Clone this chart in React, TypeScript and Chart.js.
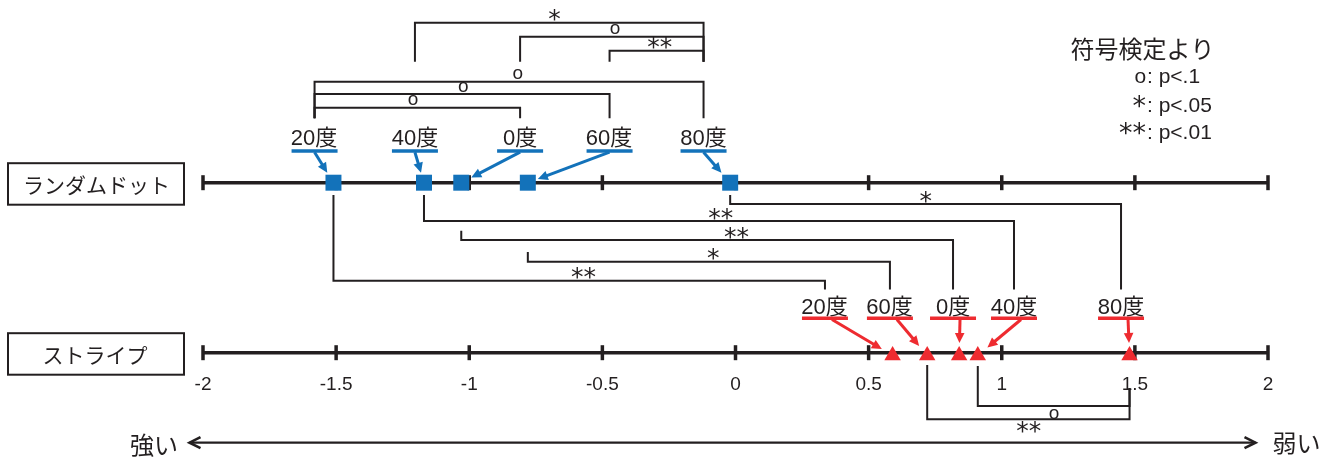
import React, { useEffect, useRef } from 'react';
import { Chart, registerables } from 'chart.js';

Chart.register(...registerables);

// ---------------- data ----------------
const CONDITIONS = ['0度', '20度', '40度', '60度', '80度'];
const RANDOM_DOT = [-1.03, -1.51, -1.17, -0.78, -0.02];
const STRIPE = [0.84, 0.59, 0.91, 0.72, 1.48];
const AXIS_MIN = -2;
const AXIS_MAX = 2;
const TICK_VALUES = [-2, -1.5, -1, -0.5, 0, 0.5, 1, 1.5, 2];
const TICK_LABELS = ['-2', '-1.5', '-1', '-0.5', '0', '0.5', '1', '1.5', '2'];
const ROW_NAMES = ['ランダムドット', 'ストライプ'];
// within random-dot comparisons [left, right, mark]
const RD_PAIRS: [string, string, string][] = [
  ['40度', '80度', '*'],
  ['0度', '80度', 'o'],
  ['60度', '80度', '**'],
  ['20度', '80度', 'o'],
  ['20度', '60度', 'o'],
  ['20度', '0度', 'o'],
];
// random-dot vs stripe, same angle [condition, mark]
const CROSS_PAIRS: [string, string][] = [
  ['80度', '*'],
  ['40度', '**'],
  ['0度', '**'],
  ['60度', '*'],
  ['20度', '**'],
];
// within stripe comparisons
const ST_PAIRS: [string, string, string][] = [
  ['40度', '80度', 'o'],
  ['60度', '80度', '**'],
];
const LEGEND_TITLE = '符号検定より';
const LEGEND_MARKS = ['o', '*', '**'];
const LEGEND_TEXTS = [': p<.1', ': p<.05', ': p<.01'];
const DIRECTION_LABELS = ['強い', '弱い'];

// ---------------- layout / style ----------------
const W = 1330;
const H = 457;
const PLOT_LEFT = 203;
const PLOT_RIGHT = 1268;
const BLUE = '#1372BA';
const RED = '#EE2B30';
const INK = '#231F20';
const LATIN = '"Liberation Sans", Arial, "Noto Sans CJK JP", sans-serif';
const CJK = '"Noto Sans CJK JP", "Noto Sans CJK SC", sans-serif';
const STAR_FONT = '25px "DejaVu Sans", sans-serif';
const LEGEND_STAR_FONT = '27px "DejaVu Sans", sans-serif';
const O_FONT = '19px "Liberation Sans", Arial, sans-serif';
const LEGEND_O_FONT = '21px "Liberation Sans", Arial, sans-serif';

const RD_Y = 182.7;
const ST_Y = 352.7;
const TRI_Y = 355.5;
// label anchors along the axis (axis units)
const RD_LABEL_AT: Record<string, number> = { '20度': -1.581, '40度': -1.204, '0度': -0.809, '60度': -0.473, '80度': -0.12 };
const ST_LABEL_AT: Record<string, number> = { '20度': 0.336, '60度': 0.58, '0度': 0.817, '40度': 1.046, '80度': 1.448 };
const RD_LABEL_Y = 137.4;
const RD_LINE_Y = 151;
const ST_LABEL_Y = 305.9;
const ST_LINE_Y = 318.3;
const RD_TOP_LEVEL = [22.7, 36.7, 50.7, 81.7, 94, 107.7];
const RD_TOP_FOOT = [61.7, 61.7, 61.7, 118.3, 118.3, 118.3];
const RD_TOP_SHIFT = [-5, 3, 3, 8.5, 1, -4.5];
const CROSS_LEVEL = [204, 221, 240, 261.7, 280.7];
const CROSS_TOP = [195, 195, 230.7, 252, 195];
const CROSS_FOOT = 289.5;
const CROSS_SHIFT = [0, 1.5, 29, 4, 4];
const ST_LEVEL = [406, 419.3];
const ST_TOP = [366, 365];
const ST_RIGHT_TOP = 388;
const TICK_LABEL_BASE = 390;
const DIR_Y = 442.7;

const rd = (c: string) => RANDOM_DOT[CONDITIONS.indexOf(c)];
const st = (c: string) => STRIPE[CONDITIONS.indexOf(c)];

type Mark = { text: string; x1: number; x2: number; y: number; shift: number; below: boolean };

function bracket(xa: number, ya: number, xb: number, yb: number, level: number) {
  return [
    { x: xa, y: ya },
    { x: xa, y: level },
    { x: xb, y: level },
    { x: xb, y: yb },
  ];
}

const marks: Mark[] = [];
const bracketSets: any[] = [];
RD_PAIRS.forEach(([a, b, m], i) => {
  const xa = RD_LABEL_AT[a];
  const xb = RD_LABEL_AT[b];
  bracketSets.push(bracket(xa, RD_TOP_FOOT[i], xb, RD_TOP_FOOT[i], RD_TOP_LEVEL[i]));
  marks.push({ text: m, x1: xa, x2: xb, y: RD_TOP_LEVEL[i], shift: RD_TOP_SHIFT[i], below: false });
});
CROSS_PAIRS.forEach(([c, m], i) => {
  const xa = rd(c);
  const xb = ST_LABEL_AT[c];
  bracketSets.push(bracket(xa, CROSS_TOP[i], xb, CROSS_FOOT, CROSS_LEVEL[i]));
  marks.push({ text: m, x1: xa, x2: xb, y: CROSS_LEVEL[i], shift: CROSS_SHIFT[i], below: false });
});
ST_PAIRS.forEach(([a, b, m], i) => {
  const xa = st(a);
  const xb = st(b);
  bracketSets.push(bracket(xa, ST_TOP[i], xb, ST_RIGHT_TOP, ST_LEVEL[i]));
  marks.push({ text: m, x1: xa, x2: xb, y: ST_LEVEL[i], shift: 0, below: true });
});

function drawCentered(ctx: CanvasRenderingContext2D, text: string, cx: number, cy: number, font: string, color: string) {
  ctx.font = font;
  ctx.fillStyle = color;
  ctx.textAlign = 'left';
  ctx.textBaseline = 'alphabetic';
  const m = ctx.measureText(text);
  const w = m.actualBoundingBoxLeft + m.actualBoundingBoxRight;
  const h = m.actualBoundingBoxAscent + m.actualBoundingBoxDescent;
  ctx.fillText(text, cx - w / 2 + m.actualBoundingBoxLeft, cy - h / 2 + m.actualBoundingBoxAscent);
}

function markFont(t: string) {
  return t === 'o' ? O_FONT : STAR_FONT;
}

function arrow(ctx: CanvasRenderingContext2D, x1: number, y1: number, x2: number, y2: number, color: string) {
  const dx = x2 - x1;
  const dy = y2 - y1;
  const len = Math.hypot(dx, dy);
  const ux = dx / len;
  const uy = dy / len;
  const hl = 10;
  const hw = 4.8;
  const bx = x2 - ux * hl;
  const by = y2 - uy * hl;
  ctx.strokeStyle = color;
  ctx.lineWidth = 3;
  ctx.lineCap = 'butt';
  ctx.beginPath();
  ctx.moveTo(x1, y1);
  ctx.lineTo(bx + ux, by + uy);
  ctx.stroke();
  ctx.fillStyle = color;
  ctx.beginPath();
  ctx.moveTo(x2, y2);
  ctx.lineTo(bx - uy * hw, by + ux * hw);
  ctx.lineTo(bx + uy * hw, by - ux * hw);
  ctx.closePath();
  ctx.fill();
}

const diagramPlugin = {
  id: 'diagram',
  beforeDatasetsDraw(chart: any) {
    const ctx: CanvasRenderingContext2D = chart.ctx;
    const xs = chart.scales.x;
    const ys = chart.scales.y;
    ctx.save();
    // number lines
    [RD_Y, ST_Y].forEach((rowY) => {
      const py = ys.getPixelForValue(rowY);
      ctx.strokeStyle = INK;
      ctx.lineWidth = 3.5;
      ctx.lineCap = 'butt';
      ctx.beginPath();
      ctx.moveTo(xs.getPixelForValue(AXIS_MIN), py);
      ctx.lineTo(xs.getPixelForValue(AXIS_MAX), py);
      ctx.stroke();
      TICK_VALUES.forEach((v) => {
        const px = xs.getPixelForValue(v);
        ctx.beginPath();
        ctx.moveTo(px, py - 7.5);
        ctx.lineTo(px, py + 7.5);
        ctx.stroke();
      });
    });
    // row name boxes
    [RD_Y, ST_Y].forEach((rowY, i) => {
      const py = ys.getPixelForValue(rowY);
      ctx.strokeStyle = INK;
      ctx.lineWidth = 2;
      ctx.strokeRect(8, py - 19.5, 176, 41.5);
      drawCentered(ctx, ROW_NAMES[i], 96, py + 2.8, '21px ' + CJK, INK);
    });
    ctx.restore();
  },
  afterDatasetsDraw(chart: any) {
    const ctx: CanvasRenderingContext2D = chart.ctx;
    const xs = chart.scales.x;
    const ys = chart.scales.y;
    ctx.save();
    // tick labels
    ctx.font = '19px ' + LATIN;
    ctx.fillStyle = INK;
    ctx.textAlign = 'center';
    ctx.textBaseline = 'alphabetic';
    TICK_VALUES.forEach((v, i) => {
      ctx.fillText(TICK_LABELS[i], xs.getPixelForValue(v), ys.getPixelForValue(TICK_LABEL_BASE));
    });
    // condition labels, underlines and arrows
    const rows = [
      { at: RD_LABEL_AT, labelY: RD_LABEL_Y, lineY: RD_LINE_Y, color: BLUE, vals: RANDOM_DOT, ptY: RD_Y, start: 0, square: true },
      { at: ST_LABEL_AT, labelY: ST_LABEL_Y, lineY: ST_LINE_Y, color: RED, vals: STRIPE, ptY: TRI_Y, start: 7, square: false },
    ];
    rows.forEach((r) => {
      CONDITIONS.forEach((c, i) => {
        const ax = xs.getPixelForValue(r.at[c]);
        const ly = ys.getPixelForValue(r.lineY);
        drawCentered(ctx, c, ax, ys.getPixelForValue(r.labelY), '22px ' + LATIN, INK);
        ctx.strokeStyle = r.color;
        ctx.lineWidth = 3.4;
        ctx.beginPath();
        ctx.moveTo(ax - 23, ly);
        ctx.lineTo(ax + 23, ly);
        ctx.stroke();
        const sx = ax + r.start;
        const sy = ly + 1.2;
        const px = xs.getPixelForValue(r.vals[i]);
        const py = ys.getPixelForValue(r.ptY);
        const vx0 = sx - px;
        const vy0 = sy - py;
        const l = Math.hypot(vx0, vy0);
        const vx = vx0 / l;
        const vy = vy0 / l;
        const t = r.square ? 10 / Math.max(Math.abs(vx), Math.abs(vy)) : 12.5;
        arrow(ctx, sx, sy, px + vx * t, py + vy * t, r.color);
      });
    });
    // significance marks
    marks.forEach((m) => {
      const cx = (xs.getPixelForValue(m.x1) + xs.getPixelForValue(m.x2)) / 2 + m.shift;
      const cy = ys.getPixelForValue(m.y) + (m.below ? 7.5 : -7.5);
      drawCentered(ctx, m.text, cx, cy, markFont(m.text), INK);
    });
    // legend
    drawCentered(ctx, LEGEND_TITLE, 1140, ys.getPixelForValue(49), '24px ' + CJK, INK);
    const legendBase = [83.3, 111.7, 139.3];
    LEGEND_MARKS.forEach((mk, i) => {
      const base = ys.getPixelForValue(legendBase[i]);
      const cyMark = mk === 'o' ? base - 6 : base - 10.5;
      const f = mk === 'o' ? LEGEND_O_FONT : LEGEND_STAR_FONT;
      ctx.font = f;
      const mm = ctx.measureText(mk);
      const mw = mm.actualBoundingBoxLeft + mm.actualBoundingBoxRight;
      drawCentered(ctx, mk, 1145.5 - mw / 2, cyMark, f, INK);
      ctx.font = '21px ' + LATIN;
      ctx.fillStyle = INK;
      ctx.textAlign = 'left';
      ctx.textBaseline = 'alphabetic';
      ctx.fillText(LEGEND_TEXTS[i], 1147, base);
    });
    // direction arrow
    const dy = ys.getPixelForValue(DIR_Y);
    const xl = 188.5;
    const xr = 1256.5;
    ctx.strokeStyle = INK;
    ctx.lineWidth = 2.3;
    ctx.beginPath();
    ctx.moveTo(xl + 1, dy);
    ctx.lineTo(xr - 1, dy);
    ctx.stroke();
    ctx.lineWidth = 2.6;
    ctx.beginPath();
    ctx.moveTo(xl + 12, dy - 5.5);
    ctx.lineTo(xl + 1, dy);
    ctx.lineTo(xl + 12, dy + 5.5);
    ctx.moveTo(xr - 12, dy - 5.5);
    ctx.lineTo(xr - 1, dy);
    ctx.lineTo(xr - 12, dy + 5.5);
    ctx.stroke();
    drawCentered(ctx, DIRECTION_LABELS[0], 154, ys.getPixelForValue(445), '24px ' + CJK, INK);
    drawCentered(ctx, DIRECTION_LABELS[1], 1296.4, ys.getPixelForValue(443.5), '24px ' + CJK, INK);
    ctx.restore();
  },
};

export default function App() {
  const canvasRef = useRef<HTMLCanvasElement | null>(null);
  useEffect(() => {
    if (!canvasRef.current) return;
    const datasets: any[] = [
      {
        label: 'ランダムドット',
        data: CONDITIONS.map((c, i) => ({ x: RANDOM_DOT[i], y: RD_Y })),
        pointStyle: 'rect',
        pointRadius: 11.3,
        backgroundColor: BLUE,
        pointBackgroundColor: BLUE,
        borderWidth: 0,
        pointBorderWidth: 0,
        clip: false,
      },
      {
        label: 'ストライプ',
        data: CONDITIONS.map((c, i) => ({ x: STRIPE[i], y: TRI_Y })),
        pointStyle: 'triangle',
        pointRadius: 9.5,
        backgroundColor: RED,
        pointBackgroundColor: RED,
        borderWidth: 0,
        pointBorderWidth: 0,
        clip: false,
      },
      ...bracketSets.map((d, i) => ({
        label: 'bracket' + i,
        data: d,
        showLine: true,
        borderColor: INK,
        borderWidth: 2,
        pointRadius: 0,
        fill: false,
        tension: 0,
        borderCapStyle: 'butt',
        borderJoinStyle: 'miter',
        clip: false,
      })),
    ];
    const chart = new Chart(canvasRef.current, {
      type: 'scatter',
      data: { datasets },
      options: {
        animation: false,
        responsive: true,
        maintainAspectRatio: false,
        events: [],
        layout: { autoPadding: false, padding: { left: PLOT_LEFT, right: W - PLOT_RIGHT, top: 0, bottom: 0 } },
        scales: {
          x: { type: 'linear', min: AXIS_MIN, max: AXIS_MAX, display: false },
          y: { type: 'linear', min: 0, max: H, reverse: true, display: false },
        },
        plugins: { legend: { display: false }, tooltip: { enabled: false } },
      },
      plugins: [diagramPlugin],
    } as any);
    return () => chart.destroy();
  }, []);
  return (
    <div style={{ position: 'fixed', left: 0, top: 0, width: W, height: H, background: '#fff' }}>
      <canvas ref={canvasRef} />
    </div>
  );
}
